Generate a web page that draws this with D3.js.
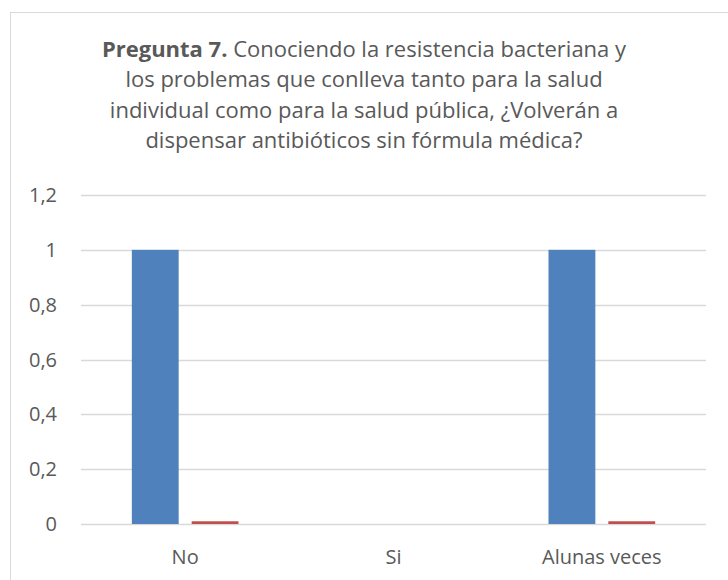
<!DOCTYPE html>
<html>
<head>
<meta charset="utf-8">
<script src="https://cdn.jsdelivr.net/npm/d3@7"></script>
<style>
  body { margin: 0; background: #fff; }
  text { font-family: "Open Sans", "Noto Sans", sans-serif; fill: #595959; }
</style>
</head>
<body>
<svg id="chart" width="728" height="580"></svg>
<script>
// data
var categories = ["No", "Si", "Alunas veces"];
var serie1 = [1, 0, 1];
var serie2 = [0.01, 0, 0.01];
var yTicks = [0, 0.2, 0.4, 0.6, 0.8, 1, 1.2];
var titleLines = [
  ["Pregunta 7.", " Conociendo la resistencia bacteriana y"],
  ["", "los problemas que conlleva tanto para la salud"],
  ["", "individual como para la salud pública, ¿Volverán a"],
  ["", "dispensar antibióticos sin fórmula médica?"]
];

var svg = d3.select("#chart");

// chart border
svg.append("rect")
  .attr("x", 10.5).attr("y", 12.5)
  .attr("width", 760).attr("height", 600)
  .attr("fill", "#fff").attr("stroke", "#d9d9d9");

var margin = { left: 81, right: 22, top: 195 };
var width = 728 - margin.left - margin.right;
var plotBottom = 524;

var x = d3.scaleBand().domain(categories).range([margin.left, margin.left + width]);
var y = d3.scaleLinear().domain([0, 1.2]).range([plotBottom, margin.top]);

// gridlines
svg.append("g")
  .selectAll("line")
  .data(yTicks)
  .enter()
  .append("line")
  .attr("x1", margin.left)
  .attr("x2", margin.left + width)
  .attr("y1", function (d) { return Math.round(y(d)) + 0.5; })
  .attr("y2", function (d) { return Math.round(y(d)) + 0.5; })
  .attr("stroke", "#d9d9d9")
  .attr("stroke-width", 1.5);

// y labels
var fmt = function (d) { return String(+d.toFixed(1)).replace(".", ","); };
svg.append("g")
  .selectAll("text")
  .data(yTicks)
  .enter()
  .append("text")
  .attr("x", 57)
  .attr("y", function (d) { return y(d); })
  .attr("dy", "0.35em")
  .attr("text-anchor", "end")
  .style("font-size", "20px")
  .text(fmt);

// bars
var x1 = d3.scaleBand().domain([0, 1]).range([0, x.bandwidth()]).paddingInner(0.217).paddingOuter(0.85);

svg.append("g")
  .selectAll("rect")
  .data(serie1)
  .enter()
  .append("rect")
  .attr("x", function (d, i) { return x(categories[i]) + x1(0); })
  .attr("y", function (d) { return y(d); })
  .attr("width", x1.bandwidth())
  .attr("height", function (d) { return y(0) - y(d); })
  .attr("fill", "#4f81bd");

svg.append("g")
  .selectAll("rect")
  .data(serie2)
  .enter()
  .append("rect")
  .attr("x", function (d, i) { return x(categories[i]) + x1(1); })
  .attr("y", function (d) { return y(d); })
  .attr("width", x1.bandwidth())
  .attr("height", function (d) { return y(0) - y(d); })
  .attr("fill", "#c0504d");

// x labels
svg.append("g")
  .selectAll("text")
  .data(categories)
  .enter()
  .append("text")
  .attr("x", function (d) { return x(d) + x.bandwidth() / 2; })
  .attr("y", 564)
  .attr("text-anchor", "middle")
  .style("font-size", "20px")
  .text(function (d) { return d; });

// title
var title = svg.append("g");
titleLines.forEach(function (line, i) {
  var t = title.append("text")
    .attr("x", 364)
    .attr("y", 57 + i * 30.4)
    .attr("text-anchor", "middle")
    .style("font-size", "22px");
  if (line[0]) t.append("tspan").style("font-weight", "bold").text(line[0]);
  t.append("tspan").text(line[1]);
});
</script>
</body>
</html>
